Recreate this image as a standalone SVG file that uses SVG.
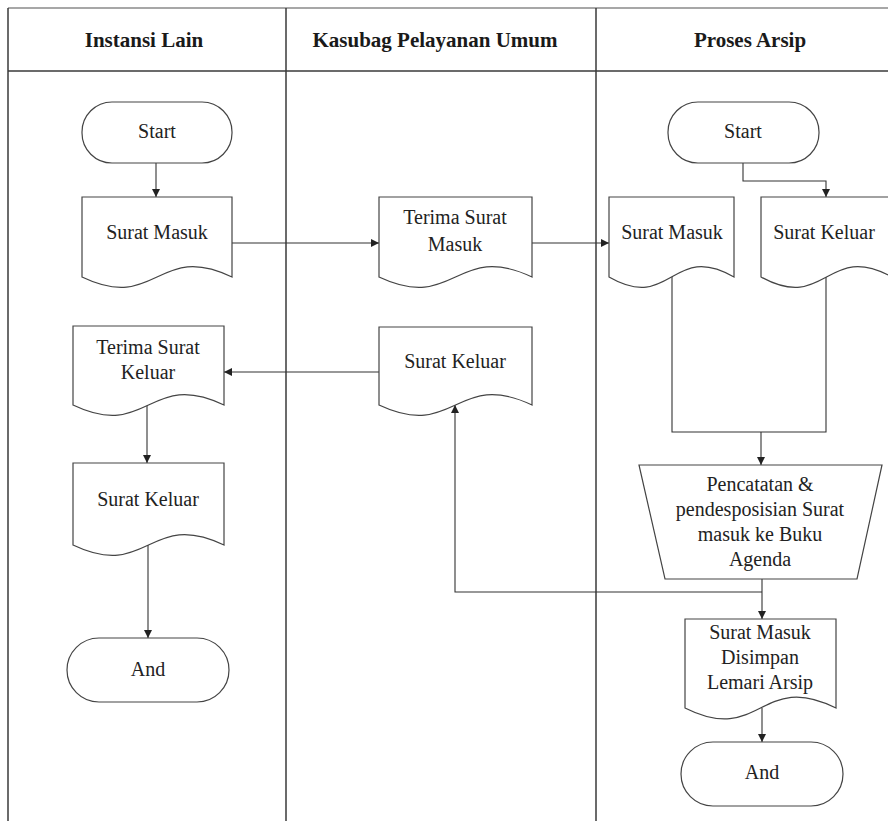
<svg xmlns="http://www.w3.org/2000/svg" width="888" height="821" viewBox="0 0 888 821">
<defs>
<style>
.frame{stroke:#3a3a3a;stroke-width:1.5;fill:none}
.frameTop{stroke:#8a8a8a;stroke-width:1.5;fill:none}
.hdr{font-size:21px;font-weight:bold;fill:#1a1a1a;text-anchor:middle}
.lbl{font-size:20px;fill:#222;text-anchor:middle}
.shape{fill:#fff;stroke:#444;stroke-width:1.2}
.conn{fill:none;stroke:#333;stroke-width:1.1}
</style>
<marker id="arr" viewBox="0 0 10 10" refX="10" refY="5" markerWidth="8" markerHeight="8" markerUnits="userSpaceOnUse" orient="auto">
<path d="M0,0 L10,5 L0,10 Z" fill="#222"/>
</marker>
</defs>
<rect width="888" height="821" fill="#fff"/>
<g font-family="Liberation Serif, DejaVu Serif, serif">
<g id="frame">
<line class="frameTop" x1="8" y1="8" x2="888" y2="8"/>
<line class="frame" x1="8" y1="8" x2="8" y2="821"/>
<line class="frame" x1="286" y1="8" x2="286" y2="821"/>
<line class="frame" x1="596" y1="8" x2="596" y2="821"/>
<line class="frame" x1="8" y1="71" x2="888" y2="71"/>
<text class="hdr" x="144" y="47">Instansi Lain</text>
<text class="hdr" x="435" y="47">Kasubag Pelayanan Umum</text>
<text class="hdr" x="750" y="47">Proses Arsip</text>
</g>
<g id="connectors">
<line class="conn" x1="156" y1="163" x2="156" y2="197" marker-end="url(#arr)"/>
<line class="conn" x1="232" y1="243" x2="379" y2="243" marker-end="url(#arr)"/>
<line class="conn" x1="532" y1="243" x2="609" y2="243" marker-end="url(#arr)"/>
<polyline class="conn" points="743,163 743,181 826,181 826,197" marker-end="url(#arr)"/>
<polyline class="conn" points="672,275 672,432 826,432 826,275"/>
<line class="conn" x1="761" y1="432" x2="761" y2="465" marker-end="url(#arr)"/>
<line class="conn" x1="762" y1="579" x2="762" y2="619" marker-end="url(#arr)"/>
<polyline class="conn" points="762,592 455,592 455,405" marker-end="url(#arr)"/>
<line class="conn" x1="379" y1="372" x2="224" y2="372" marker-end="url(#arr)"/>
<line class="conn" x1="147" y1="405" x2="147" y2="463" marker-end="url(#arr)"/>
<line class="conn" x1="148" y1="545" x2="148" y2="638" marker-end="url(#arr)"/>
<line class="conn" x1="762" y1="708" x2="762" y2="742" marker-end="url(#arr)"/>
</g>
<g id="startL">
<rect class="shape" x="82" y="102" width="150" height="61" rx="30"/>
<text class="lbl" x="157" y="138">Start</text>
</g>
<g id="suratMasukL">
<path class="shape" d="M82,197 H232 V277 C157,241 157,313 82,277 Z"/>
<text class="lbl" x="157" y="239">Surat Masuk</text>
</g>
<g id="terimaSuratMasuk">
<path class="shape" d="M379,197 H532 V277 C455.5,241 455.5,313 379,277 Z"/>
<text class="lbl" x="455" y="224">Terima Surat</text>
<text class="lbl" x="455" y="251">Masuk</text>
</g>
<g id="startP">
<rect class="shape" x="668" y="102" width="151" height="61" rx="30"/>
<text class="lbl" x="743" y="138">Start</text>
</g>
<g id="suratMasukP">
<path class="shape" d="M609,197 H734 V277 C671.5,241 671.5,313 609,277 Z"/>
<text class="lbl" x="672" y="239">Surat Masuk</text>
</g>
<g id="suratKeluarP">
<path class="shape" d="M761,197 H892 V277 C826.5,241 826.5,313 761,277 Z"/>
<text class="lbl" x="824" y="239">Surat Keluar</text>
</g>
<g id="pencatatan">
<polygon class="shape" points="639,465 882,465 857,579 665,579"/>
<text class="lbl" x="760" y="491">Pencatatan &amp;</text>
<text class="lbl" x="760" y="516">pendesposisian Surat</text>
<text class="lbl" x="760" y="541">masuk ke Buku</text>
<text class="lbl" x="760" y="566">Agenda</text>
</g>
<g id="disimpan">
<path class="shape" d="M685,619 H836 V708 C760.5,670 760.5,746 685,708 Z"/>
<text class="lbl" x="760" y="639">Surat Masuk</text>
<text class="lbl" x="760" y="664">Disimpan</text>
<text class="lbl" x="760" y="689">Lemari Arsip</text>
</g>
<g id="andP">
<rect class="shape" x="681" y="742" width="162" height="64" rx="32"/>
<text class="lbl" x="762" y="779">And</text>
</g>
<g id="suratKeluarK">
<path class="shape" d="M379,327 H532 V405 C455.5,369 455.5,441 379,405 Z"/>
<text class="lbl" x="455" y="368">Surat Keluar</text>
</g>
<g id="terimaSuratKeluar">
<path class="shape" d="M73,326 H224 V405 C148.5,369 148.5,441 73,405 Z"/>
<text class="lbl" x="148" y="354">Terima Surat</text>
<text class="lbl" x="148" y="379">Keluar</text>
</g>
<g id="suratKeluarL">
<path class="shape" d="M73,463 H224 V545 C148.5,509 148.5,581 73,545 Z"/>
<text class="lbl" x="148" y="506">Surat Keluar</text>
</g>
<g id="andL">
<rect class="shape" x="67" y="638" width="162" height="64" rx="32"/>
<text class="lbl" x="148" y="676">And</text>
</g>
</g>
</svg>
